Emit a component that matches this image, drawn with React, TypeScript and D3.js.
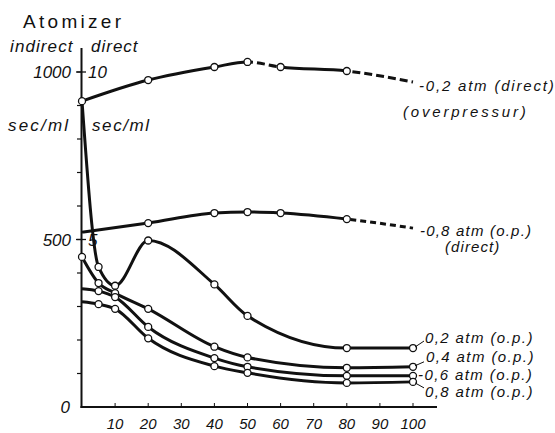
import React from "react";
import * as d3 from "d3";

// ---- data ----
const xValues = [0, 5, 10, 20, 40, 50, 80, 100];
const op02 = [913, 418, 362, 497, 366, 272, 176, 176];
const op04 = [448, 370, 340, 293, 180, 148, 117, 120];
const op06 = [353, 346, 328, 239, 146, 120, 93, 93];
const op08 = [314, 307, 293, 205, 122, 102, 72, 75];

const directX = [0, 20, 40, 50, 60, 80, 100];
const direct02 = [913, 976, 1015, 1030, 1015, 1003, 970];
const direct08 = [522, 549, 579, 582, 579, 561, 534];

const op02Markers = [5, 10, 20, 40, 50, 80, 100];
const op04Markers = [0, 5, 10, 20, 40, 50, 80, 100];
const op06Markers = [5, 10, 20, 40, 50, 80, 100];
const op08Markers = [5, 10, 20, 40, 50, 80, 100];
const direct02Markers = [0, 20, 40, 50, 60, 80];
const direct08Markers = [20, 40, 50, 60, 80];

const direct02Solid = [[0, 50], [60, 80]];
const direct02Dashed = [[50, 60], [80, 100]];
const direct08Solid = [[0, 80]];
const direct08Dashed = [[80, 100]];

const xTicks = [10, 20, 30, 40, 50, 60, 70, 80, 90, 100];
const yMinorTicks = [100, 200, 300, 400, 500, 600, 700, 800, 900, 1000];
const yMajorTicks = [500, 1000];
const yLeftLabels = ["500", "1000"];
const yRightLabels = ["5", "10"];

const title = "Atomizer";
const leftHeader = "indirect";
const rightHeader = "direct";
const unitLabel = "sec/ml";
const direct02Label = ["-0,2 atm (direct)", "(overpressur)"];
const direct08Label = ["-0,8 atm (o.p.)", "(direct)"];
const opLabels = ["0,2 atm (o.p.)", "0,4 atm (o.p.)", "-0,6 atm (o.p.)", "0,8 atm (o.p.)"];

const W = 555;
const H = 433;
const FONT = "'Liberation Sans', Arial, sans-serif";

export default function App() {
  const x = d3.scaleLinear().domain([0, 100]).range([82, 413]);
  const y = d3.scaleLinear().domain([0, 1000]).range([407, 72]);

  const line = d3
    .line<[number, number]>()
    .x((d) => x(d[0]))
    .y((d) => y(d[1]))
    .curve(d3.curveMonotoneX);

  const pts = (xs: number[], ys: number[]) => xs.map((v, i) => [v, ys[i]] as [number, number]);

  const opSeries = [op02, op04, op06, op08].map((s) => pts(xValues, s));
  const opMarkers = [op02Markers, op04Markers, op06Markers, op08Markers];
  const d02 = pts(directX, direct02);
  const d08 = pts(directX, direct08);

  const markerCircles = (p: [number, number][], marks: number[], key: string) =>
    p
      .filter((d) => marks.includes(d[0]))
      .map((d, i) => (
        <circle key={key + i} cx={x(d[0])} cy={y(d[1])} r={3.5} fill="#fff" stroke="#111" strokeWidth={1.3} />
      ));

  const clipRects = (ranges: number[][]) =>
    ranges.map((r, i) => (
      <rect key={i} x={x(r[0]) - (r[0] === 0 ? 6 : 0)} y={0} width={x(r[1]) - x(r[0]) + (r[0] === 0 ? 6 : 0) + (r[1] === 100 ? 6 : 0)} height={H} />
    ));

  const textStyle = { fontFamily: FONT, fontStyle: "italic" as const, fill: "#111" };

  const lastY = (s: number[]) => y(s[s.length - 1]);
  const endX = x(100);

  return (
    <svg width={W} height={H} style={{ position: "absolute", left: 0, top: 0, background: "#fff" }}>
      <defs>
        <clipPath id="d02s">{clipRects(direct02Solid)}</clipPath>
        <clipPath id="d02d">{clipRects(direct02Dashed)}</clipPath>
        <clipPath id="d08s">{clipRects(direct08Solid)}</clipPath>
        <clipPath id="d08d">{clipRects(direct08Dashed)}</clipPath>
      </defs>

      {/* title and headers */}
      <text x={23} y={28} fontFamily={FONT} fontSize={19} letterSpacing={3.3} fill="#111">
        {title}
      </text>
      <text x={10} y={52} fontSize={17} letterSpacing={1.1} {...textStyle}>
        {leftHeader}
      </text>
      <text x={91} y={52} fontSize={17} letterSpacing={1} {...textStyle}>
        {rightHeader}
      </text>
      <text x={8} y={131} fontSize={17} letterSpacing={2.2} {...textStyle}>
        {unitLabel}
      </text>
      <text x={92} y={131} fontSize={17} letterSpacing={1.6} {...textStyle}>
        {unitLabel}
      </text>

      {/* y axis */}
      <line x1={81.5} x2={81.5} y1={48} y2={408} stroke="#111" strokeWidth={2} />
      {yMinorTicks.map((t) => (
        <line key={t} x1={77} x2={81.5} y1={y(t)} y2={y(t)} stroke="#111" strokeWidth={1.2} />
      ))}
      {yMajorTicks.map((t, i) => (
        <g key={t}>
          <line x1={76} x2={86} y1={y(t)} y2={y(t)} stroke="#111" strokeWidth={1.3} />
          <text x={71} y={y(t) + 6} fontSize={17} textAnchor="end" {...textStyle}>
            {yLeftLabels[i]}
          </text>
          <text x={88} y={y(t) + 6} fontSize={17} {...textStyle}>
            {yRightLabels[i]}
          </text>
        </g>
      ))}
      <text x={70} y={413} fontSize={17} textAnchor="end" {...textStyle}>
        0
      </text>

      {/* x axis */}
      <line x1={80.5} x2={437} y1={407} y2={407} stroke="#111" strokeWidth={2} />
      {xTicks.map((t) => (
        <g key={t}>
          <line x1={x(t)} x2={x(t)} y1={407} y2={403} stroke="#111" strokeWidth={1} />
          <text x={x(t)} y={429} fontSize={15} textAnchor="middle" {...textStyle}>
            {t}
          </text>
        </g>
      ))}

      {/* lower (o.p.) curves */}
      {opSeries.map((s, i) => (
        <path key={i} d={line(s) || ""} fill="none" stroke="#111" strokeWidth={3} strokeLinejoin="round" />
      ))}

      {/* direct curves */}
      <path d={line(d02) || ""} fill="none" stroke="#111" strokeWidth={3} clipPath="url(#d02s)" />
      <path d={line(d02) || ""} fill="none" stroke="#111" strokeWidth={3} strokeDasharray="8 4" clipPath="url(#d02d)" />
      <path d={line(d08) || ""} fill="none" stroke="#111" strokeWidth={3} clipPath="url(#d08s)" />
      <path d={line(d08) || ""} fill="none" stroke="#111" strokeWidth={3} strokeDasharray="6 4" clipPath="url(#d08d)" />

      {/* markers */}
      {opSeries.map((s, i) => markerCircles(s, opMarkers[i], "op" + i))}
      {markerCircles(d02, direct02Markers, "d02")}
      {markerCircles(d08, direct08Markers, "d08")}

      {/* labels for direct curves */}
      <text x={endX + 6} y={lastY(direct02) + 9} fontSize={15} letterSpacing={1.8} {...textStyle}>
        {direct02Label[0]}
      </text>
      <text x={endX - 10} y={lastY(direct02) + 35} fontSize={15} letterSpacing={2.8} {...textStyle}>
        {direct02Label[1]}
      </text>
      <text x={endX + 7} y={lastY(direct08) + 8} fontSize={15} letterSpacing={1.2} {...textStyle}>
        {direct08Label[0]}
      </text>
      <text x={endX + 32} y={lastY(direct08) + 24} fontSize={15} letterSpacing={1.1} {...textStyle}>
        {direct08Label[1]}
      </text>

      {/* labels for o.p. curves */}
      <line x1={endX + 2} y1={lastY(op02) - 1} x2={endX + 11} y2={lastY(op02) - 7} stroke="#111" strokeWidth={1} />
      <text x={endX + 12} y={lastY(op02) - 5} fontSize={15} letterSpacing={1.4} {...textStyle}>
        {opLabels[0]}
      </text>
      <line x1={endX + 2} y1={lastY(op04) - 1} x2={endX + 11} y2={lastY(op04) - 5} stroke="#111" strokeWidth={1} />
      <text x={endX + 13} y={lastY(op04) - 5} fontSize={15} letterSpacing={1.4} {...textStyle}>
        {opLabels[1]}
      </text>
      <text x={endX + 5} y={lastY(op06) + 4} fontSize={15} letterSpacing={1.4} {...textStyle}>
        {opLabels[2]}
      </text>
      <line x1={endX + 2} y1={lastY(op08) + 1} x2={endX + 11} y2={lastY(op08) + 6} stroke="#111" strokeWidth={1} />
      <text x={endX + 12} y={lastY(op08) + 15} fontSize={15} letterSpacing={1.4} {...textStyle}>
        {opLabels[3]}
      </text>
    </svg>
  );
}
